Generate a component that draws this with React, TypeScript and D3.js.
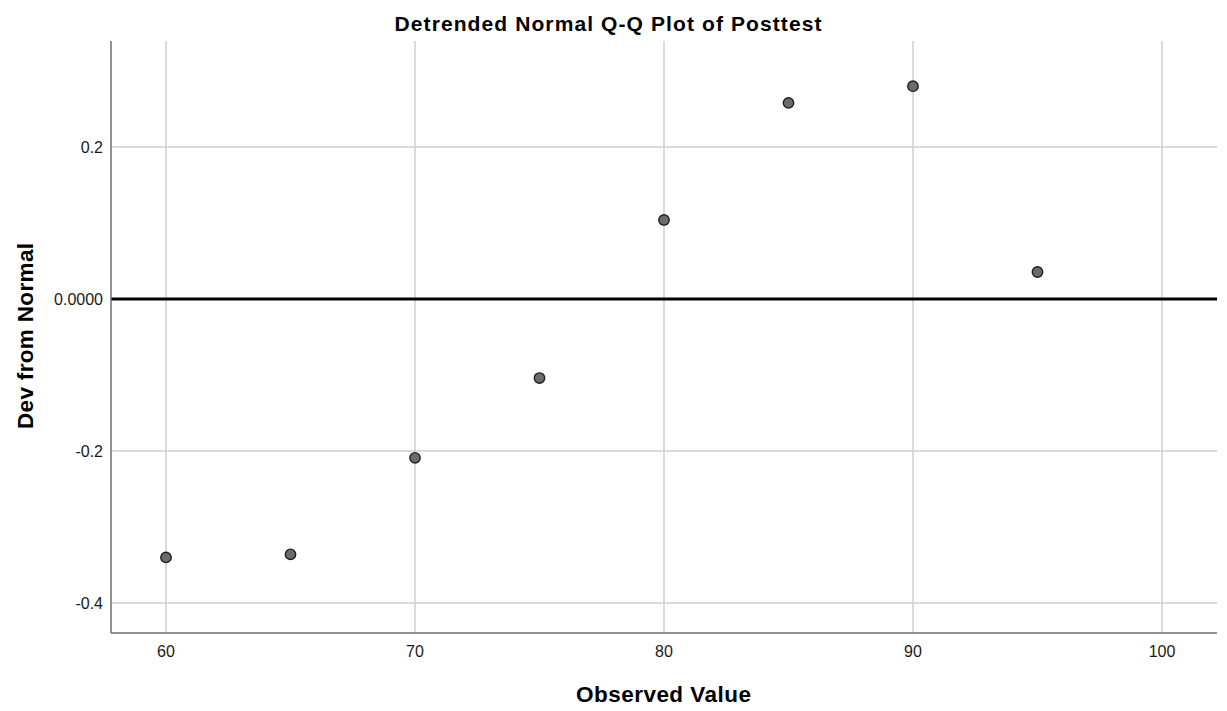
import React from "react";
import * as d3 from "d3";

const observed = [60, 65, 70, 75, 80, 85, 90, 95];
const deviation = [-0.34, -0.336, -0.209, -0.104, 0.104, 0.258, 0.28, 0.0355];
const xTicks = [60, 70, 80, 90, 100];
const yTicks = [-0.4, -0.2, 0, 0.2];
const yTickLabels = ["-0.4", "-0.2", "0.0000", "0.2"];

const W = 1227;
const H = 711;
const L = 111, R = 1217, T = 41, B = 633;

export default function App() {
  const x = d3.scaleLinear().domain([60, 100]).range([166, 1162]);
  const y = d3.scaleLinear().domain([-0.4, 0.2]).range([603, 147]);
  const font = "'Liberation Sans', Arial, sans-serif";
  return (
    <svg width={W} height={H} style={{ position: "absolute", left: 0, top: 0, background: "#fff" }} fontFamily={font}>
      <rect width={W} height={H} fill="#fff" />
      {xTicks.map((t) => (
        <line key={"gx" + t} x1={x(t)} x2={x(t)} y1={T} y2={B} stroke="#cfcfcf" strokeWidth={1.5} />
      ))}
      {yTicks.filter((t) => t !== 0).map((t) => (
        <line key={"gy" + t} x1={L} x2={R} y1={y(t)} y2={y(t)} stroke="#cfcfcf" strokeWidth={1.5} />
      ))}
      <line x1={L} x2={R} y1={y(0)} y2={y(0)} stroke="#000" strokeWidth={3} />
      <line x1={L} x2={L} y1={T} y2={B} stroke="#6e6e6e" strokeWidth={1.5} />
      <line x1={L} x2={R} y1={B} y2={B} stroke="#6e6e6e" strokeWidth={1.5} />
      {observed.map((v, i) => (
        <circle key={"p" + i} cx={x(v)} cy={y(deviation[i])} r={5.2} fill="#6b6b6b" stroke="#1e1e1e" strokeWidth={1.4} />
      ))}
      {xTicks.map((t) => (
        <text key={"tx" + t} x={x(t)} y={657} textAnchor="middle" fontSize={16} fill="#1a1a1a">{t}</text>
      ))}
      {yTicks.map((t, i) => (
        <text key={"ty" + t} x={103} y={y(t) + 5.8} textAnchor="end" fontSize={16} fill="#1a1a1a">{yTickLabels[i]}</text>
      ))}
      <text x={608} y={31} textAnchor="middle" fontSize={21} fontWeight="bold" fill="#000" textLength={427} lengthAdjust="spacing">Detrended Normal Q-Q Plot of Posttest</text>
      <text x={663.5} y={701.5} textAnchor="middle" fontSize={22.5} fontWeight="bold" fill="#000" textLength={175} lengthAdjust="spacing">Observed Value</text>
      <text transform={`translate(32.5,336) rotate(-90)`} textAnchor="middle" fontSize={22.5} fontWeight="bold" fill="#000" textLength={186} lengthAdjust="spacing">Dev from Normal</text>
    </svg>
  );
}
